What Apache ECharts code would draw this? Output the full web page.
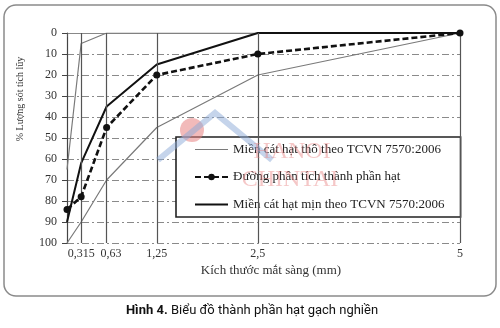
<!DOCTYPE html>
<html><head><meta charset="utf-8">
<script src="https://cdn.jsdelivr.net/npm/echarts@6/dist/echarts.min.js"></script>
<style>html,body{margin:0;padding:0;background:#fff}#c{width:500px;height:328px}</style>
</head><body><div id="c"></div>
<script>
const sieveSizes = [0.14, 0.315, 0.63, 1.25, 2.5, 5];
const tickLabels = [0.315, 0.63, 1.25, 2.5, 5];
const coarseUpper = [100, 90, 70, 45, 20, 0];
const boundaryLine = [90, 62, 35, 15, 0, 0];
const analysisLine = [84, 78, 45, 20, 10, 0];
const fineLower = [65, 5, 0, 0, 0, 0];
const nameCoarse = 'Miền cát hạt thô theo TCVN 7570:2006';
const nameAnalysis = 'Đường phân tích thành phần hạt';
const nameFine = 'Miền cát hạt mịn theo TCVN 7570:2006';
const yTitle = '% Lượng sót tích lũy';
const xTitle = 'Kích thước mắt sàng (mm)';

const pts = arr => sieveSizes.map((x, i) => [x, arr[i]]);
const serif = '"Liberation Serif","DejaVu Serif",serif';
const fmt = v => {
  const s = String(v).replace('.', ',');
  return v === 0.63 ? '{p|' + s + '}' : s;
};

const chart = echarts.init(document.getElementById('c'));
chart.setOption({
  animation: false,
  grid: {left: 67, right: 40, top: 33, bottom: 85},
  xAxis: [{
    type: 'value', min: 0.14, max: 5,
    axisLine: {lineStyle: {color: '#555', width: 1.2}},
    axisTick: {customValues: sieveSizes, length: 4, lineStyle: {color: '#555'}},
    axisLabel: {customValues: tickLabels, formatter: fmt, fontFamily: serif, fontSize: 12, color: '#333', margin: 5,
      rich: {p: {fontFamily: serif, fontSize: 12, color: '#333', padding: [0, 0, 0, 9]}}},
    splitLine: {show: false}
  }, {
    type: 'value', min: 0.14, max: 5, position: 'top',
    axisLine: {show: true, lineStyle: {color: '#888', width: 1.2}},
    axisTick: {show: false}, axisLabel: {show: false}, splitLine: {show: false}
  }],
  yAxis: {
    type: 'value', inverse: true, min: 0, max: 100, interval: 10,
    axisLine: {show: true, lineStyle: {color: '#444', width: 1.2}},
    axisTick: {show: true, length: 5, lineStyle: {color: '#444'}},
    axisLabel: {fontFamily: serif, fontSize: 12, color: '#333', margin: 10},
    splitLine: {show: true, lineStyle: {color: '#8a8a8a', width: 1.2, type: [7, 3, 2, 3]}}
  },
  legend: {
    data: [
      {name: nameCoarse, icon: 'path://M0,0h33v1.2h-33z'},
      {name: nameAnalysis},
      {name: nameFine, icon: 'path://M0,0h33v2.2h-33z'}
    ],
    orient: 'vertical', left: 176, top: 137,
    backgroundColor: '#fff', borderColor: '#222', borderWidth: 1.6, borderRadius: 0,
    padding: [6, 16, 6, 18], itemGap: 14.5, itemWidth: 33, itemHeight: 8,
    textStyle: {fontFamily: serif, fontSize: 13, color: '#222'}
  },
  series: [
    {
      name: 'grid-v', type: 'line', data: [], silent: true,
      markLine: {silent: true, symbol: 'none', label: {show: false},
        lineStyle: {color: '#555', width: 1.2, type: 'solid'},
        data: tickLabels.map(v => ({xAxis: v}))}
    },
    {name: nameCoarse, type: 'line', data: pts(coarseUpper), symbol: 'none',
      lineStyle: {color: '#7a7a7a', width: 1.2}, itemStyle: {color: '#7a7a7a'}, z: 3},
    {name: nameCoarse, type: 'line', data: pts(fineLower), symbol: 'none',
      lineStyle: {color: '#7a7a7a', width: 1.2}, itemStyle: {color: '#7a7a7a'}, z: 3},
    {name: nameFine, type: 'line', data: pts(boundaryLine), symbol: 'none',
      lineStyle: {color: '#111', width: 2}, itemStyle: {color: '#111'}, z: 4},
    {name: nameAnalysis, type: 'line', data: pts(analysisLine), symbol: 'circle', symbolSize: 7,
      lineStyle: {color: '#111', width: 2.6, type: [6, 3]}, itemStyle: {color: '#111'}, z: 5}
  ],
  graphic: [
    {type: 'rect', shape: {x: 4, y: 5, width: 492, height: 291, r: 12}, style: {fill: 'none', stroke: '#8a8a8a', lineWidth: 1.5}, z: 0},
    {type: 'text', x: 20, y: 99, rotation: Math.PI / 2, style: {text: yTitle, font: '10px ' + serif, fill: '#333', align: 'center', verticalAlign: 'middle'}},
    {type: 'text', x: 271, y: 271, style: {text: xTitle, font: '13px ' + serif, fill: '#333', align: 'center', verticalAlign: 'middle'}},
    {type: 'text', x: 252, y: 311, style: {
      text: '{b|Hình 4.} {n|Biểu đồ thành phần hạt gạch nghiền}', align: 'center', verticalAlign: 'middle',
      rich: {b: {fontFamily: '"Liberation Sans Narrow","Roboto",sans-serif', fontWeight: 'bold', fontSize: 13, fill: '#111'},
             n: {fontFamily: '"Liberation Sans Narrow","Roboto",sans-serif', fontSize: 13, fill: '#111'}}}},
    {type: 'circle', shape: {cx: 192, cy: 130, r: 12}, style: {fill: 'rgba(232,130,130,0.55)'}, z: 100},
    {type: 'polyline', shape: {points: [[158, 160], [215, 113], [272, 160]]}, style: {stroke: 'rgba(140,170,215,0.5)', lineWidth: 6, fill: 'none'}, z: 100},
    {type: 'text', x: 292, y: 152, style: {text: 'HANOI', font: '24px ' + serif, fill: 'rgba(232,130,130,0.45)', align: 'center', verticalAlign: 'middle'}, z: 100},
    {type: 'text', x: 290, y: 180, style: {text: 'CHINTAI', font: '24px ' + serif, fill: 'rgba(232,130,130,0.45)', align: 'center', verticalAlign: 'middle'}, z: 100}
  ]
});
</script></body></html>
